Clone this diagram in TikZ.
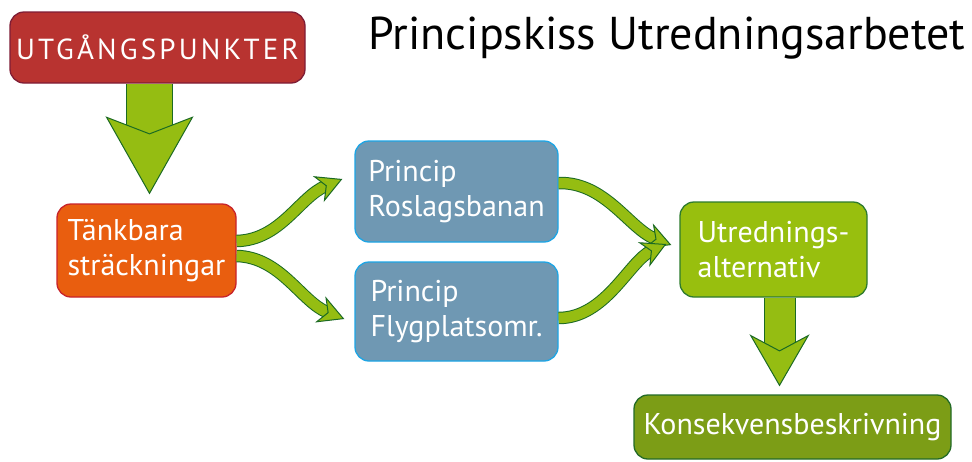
\documentclass[tikz,border=0pt]{standalone}
\usepackage{fontspec}
\setmainfont{PT Sans}
\usetikzlibrary{arrows.meta}
\definecolor{utgfill}{HTML}{B83330}
\definecolor{utgline}{HTML}{7F1D35}
\definecolor{orfill}{HTML}{E95E0F}
\definecolor{orline}{HTML}{C8232A}
\definecolor{blfill}{HTML}{6F98B3}
\definecolor{blline}{HTML}{1DA5E5}
\definecolor{grfill}{HTML}{98BF0E}
\definecolor{grline}{HTML}{2E7B2E}
\definecolor{kofill}{HTML}{7C9D16}
\definecolor{koline}{HTML}{236B26}
\definecolor{arrlight}{HTML}{95BD12}
\definecolor{arrdark}{HTML}{1B6A23}
% #1 path, #2 outer width, #3 inner width, #4 tip length, #5 tip width, #6 inset, #7 shorten of outline
\newcommand{\grarrow}[7]{%
  \draw[arrdark, line width=#2, shorten >=#7] #1;
  \draw[arrlight, line width=#3, -{Stealth[length=#4, width=#5, inset=#6, line width=1pt, color=arrdark, fill=arrlight]}] #1;
}
\begin{document}
\begin{tikzpicture}[x=1pt,y=-1pt,
  box/.style={rounded corners=14pt, line width=1.3pt, inner sep=0pt, align=left,
    text=white, font=\fontsize{30}{35}\selectfont},
  titletext/.style={font=\fontsize{46}{52}\selectfont, text=black, inner sep=0pt}]
\useasboundingbox (0,0) rectangle (972,461);
\fill[white] (0,0) rectangle (972,461);

\node[box, fill=utgfill, draw=utgline, minimum width=295pt, minimum height=71pt,
  font=\fontsize{29}{35}\selectfont\addfontfeature{LetterSpace=11}] (utg) at (157.5,47.5) {UTGÅNGSPUNKTER};
\node[titletext] (title) at (667,38) {Principskiss Utredningsarbetet};
\node[box, fill=orfill, draw=orline, minimum width=179pt, minimum height=93pt] (tank) at (146.5,250.5) {Tänkbara\\sträckningar};
\node[box, fill=blfill, draw=blline, minimum width=203pt, minimum height=101pt] (ros) at (456.5,191.5) {Princip\\Roslagsbanan};
\node[box, fill=blfill, draw=blline, minimum width=203pt, minimum height=99pt] (fly) at (456.5,311.5) {Princip\\Flygplatsomr.};
\node[box, fill=grfill, draw=grline, minimum width=187pt, minimum height=95pt] (utr) at (773.5,249.5) {Utrednings-\\alternativ};
\node[box, fill=kofill, draw=koline, minimum width=317pt, minimum height=64pt] (kon) at (792.5,427) {Konsekvensbeskrivning};

\coordinate (a1s) at ([xshift=3pt]tank.north |- utg.south);
\coordinate (a1e) at ([xshift=3pt,yshift=9pt]tank.north);
\grarrow{(a1s) -- (a1e)}{47.5pt}{45.5pt}{78pt}{88pt}{17pt}{61pt}

\coordinate (a2s) at ([xshift=6pt]utr.south);
\coordinate (a2e) at ([xshift=-13pt,yshift=8pt]kon.north);
\grarrow{(a2s) -- (a2e)}{32pt}{30pt}{52pt}{60pt}{16pt}{36pt}

\grarrow{([yshift=9.5pt]tank.east) .. controls +(44,-1) and +(-43,18) .. ([xshift=-12pt,yshift=12.5pt]ros.west)}{12.5pt}{10.5pt}{26pt}{28pt}{8pt}{18pt}
\grarrow{([yshift=-5.5pt]tank.east) .. controls +(44,1) and +(-43,-17) .. ([xshift=-10pt,yshift=-7.5pt]fly.west)}{12.5pt}{10.5pt}{26pt}{28pt}{8pt}{18pt}
\grarrow{([yshift=8.5pt]ros.east) .. controls +(47,-1) and +(-42,-16) .. ([xshift=-8pt,yshift=4.5pt]utr.west)}{12.5pt}{10.5pt}{25pt}{27pt}{8pt}{17pt}
\grarrow{([yshift=-6.5pt]fly.east) .. controls +(47,0) and +(-37,17) .. ([xshift=-13pt,yshift=5.5pt]utr.west)}{12.5pt}{10.5pt}{25pt}{27pt}{8pt}{17pt}
\end{tikzpicture}
\end{document}
